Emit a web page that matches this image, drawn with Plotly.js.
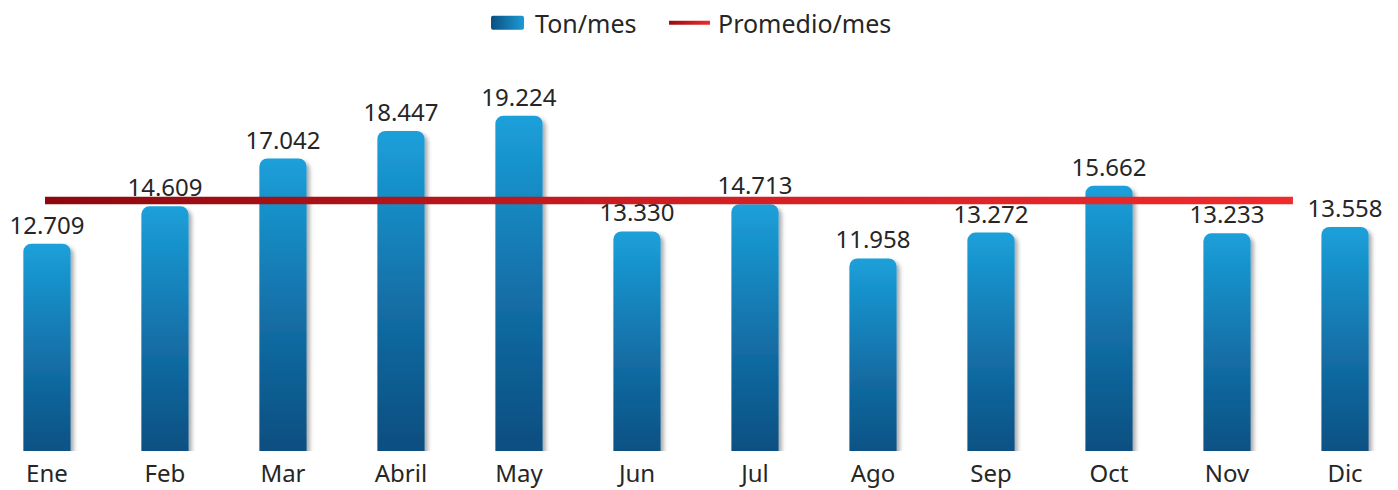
<!DOCTYPE html>
<html>
<head>
<meta charset="utf-8">
<script src="https://cdn.plot.ly/plotly-3.0.1.min.js"></script>
<style>
  html, body { margin: 0; padding: 0; background: #ffffff; }
  #chart { width: 1398px; height: 490px; }
</style>
</head>
<body>
<svg width="0" height="0" style="position:absolute">
  <defs>
    <linearGradient id="barGrad" x1="0" y1="0" x2="0" y2="1">
      <stop offset="0" stop-color="#1ba0da"/>
      <stop offset="0.45" stop-color="#1371a9"/>
      <stop offset="0.85" stop-color="#0b5082"/>
      <stop offset="1" stop-color="#0a4b7b"/>
    </linearGradient>
    <linearGradient id="lineGrad" gradientUnits="userSpaceOnUse" x1="0" y1="0" x2="1248" y2="0">
      <stop offset="0" stop-color="#8c080d"/>
      <stop offset="0.5" stop-color="#cf1e23"/>
      <stop offset="1" stop-color="#ee2b2d"/>
    </linearGradient>
    <linearGradient id="legBarGrad" x1="0" y1="0" x2="1" y2="0">
      <stop offset="0" stop-color="#0b4f80"/>
      <stop offset="1" stop-color="#1b9bd6"/>
    </linearGradient>
    <linearGradient id="legLineGrad" gradientUnits="userSpaceOnUse" x1="-9" y1="0" x2="32" y2="0">
      <stop offset="0" stop-color="#9a0a0f"/>
      <stop offset="1" stop-color="#ee2b2d"/>
    </linearGradient>
    <filter id="bshadow" x="-30%" y="-10%" width="170%" height="130%">
      <feDropShadow dx="3" dy="3" stdDeviation="2" flood-color="#000000" flood-opacity="0.35"/>
    </filter>
  </defs>
</svg>
<div id="chart"></div>
<script>
// ---- data ----
const months = ["Ene", "Feb", "Mar", "Abril", "May", "Jun", "Jul", "Ago", "Sep", "Oct", "Nov", "Dic"];
const tonMes = [12.709, 14.609, 17.042, 18.447, 19.224, 13.330, 14.713, 11.958, 13.272, 15.662, 13.233, 13.558];
const tonLabels = ["12.709", "14.609", "17.042", "18.447", "19.224", "13.330", "14.713", "11.958", "13.272", "15.662", "13.233", "13.558"];
const promedioMes = [14.9, 14.9, 14.9, 14.9, 14.9, 14.9, 14.9, 14.9, 14.9, 14.9, 14.9, 14.9];
const seriesNames = ["Ton/mes", "Promedio/mes"];

const FONT = "'Noto Sans', 'Open Sans', sans-serif";
const TXT = "#262626";

const traces = [
  {
    type: "bar",
    name: seriesNames[0],
    x: months,
    y: tonMes,
    width: 0.4,
    text: tonLabels,
    textposition: "outside",
    constraintext: "none",
    cliponaxis: false,
    textfont: { family: FONT, size: 24, color: TXT },
    marker: { color: "#1371a9", cornerradius: 8, line: { width: 0 } },
    hoverinfo: "x+y"
  },
  {
    type: "scatter",
    mode: "lines",
    name: seriesNames[1],
    x: months,
    y: promedioMes,
    xaxis: "x2",
    line: { color: "#d42326", width: 7.5 },
    hoverinfo: "y"
  }
];

const layout = {
  width: 1398,
  height: 490,
  margin: { l: 0, r: 0, t: 70, b: 39, pad: 0 },
  paper_bgcolor: "#ffffff",
  plot_bgcolor: "#ffffff",
  font: { family: FONT, color: TXT },
  showlegend: true,
  legend: {
    orientation: "h",
    x: 0.485, xanchor: "center",
    yref: "container", y: 1, yanchor: "top",
    font: { family: FONT, size: 25, color: TXT },
    entrywidth: 138,
    bgcolor: "rgba(0,0,0,0)"
  },
  xaxis: {
    type: "category",
    range: [-0.398, 11.449],
    showgrid: false, zeroline: false, showline: false,
    ticks: "",
    tickfont: { family: FONT, size: 24, color: TXT },
    ticklabelstandoff: 6
  },
  xaxis2: {
    type: "category",
    overlaying: "x",
    range: [-0.3966, 11.926],
    visible: false
  },
  yaxis: {
    range: [2.15, 21.55],
    visible: false,
    showgrid: false, zeroline: false
  },
  bargap: 0.6
};

Plotly.newPlot("chart", traces, layout, { staticPlot: true, displayModeBar: false }).then(function (gd) {
  // gradient + shadow on bars
  gd.querySelectorAll(".barlayer .point path").forEach(function (p) {
    p.style.fill = "url(#barGrad)";
    p.setAttribute("filter", "url(#bshadow)");
  });
  // gradient on average line
  const ln = gd.querySelector(".scatterlayer .js-line");
  if (ln) {
    const bb = ln.getBBox();
    const g = document.getElementById("lineGrad");
    g.setAttribute("x1", bb.x);
    g.setAttribute("x2", bb.x + bb.width);
    g.setAttribute("y1", bb.y);
    g.setAttribute("y2", bb.y);
    ln.style.stroke = "url(#lineGrad)";
    ln.style.strokeLinecap = "butt";
  }
  // legend: let the last entry's text run past the fixed entry width
  gd.querySelectorAll(".legend [clip-path]").forEach(function (el) {
    el.removeAttribute("clip-path");
  });
  // legend symbols
  const items = gd.querySelectorAll(".legend .traces");
  items.forEach(function (it) {
    const bar = it.querySelector("path.legendbar, .legendpoints path");
    const line = it.querySelector(".legendlines path");
    if (line) {
      line.setAttribute("d", "M-9,0h41");
      line.style.stroke = "url(#legLineGrad)";
      line.style.strokeWidth = "4px";
    } else if (bar) {
      bar.removeAttribute("transform");
      bar.setAttribute("d", "M-2,-7H27A2,2 0 0 1 29,-5V5A2,2 0 0 1 27,7H-2A2,2 0 0 1 -4,5V-5A2,2 0 0 1 -2,-7Z");
      bar.style.fill = "url(#legBarGrad)";
      bar.style.stroke = "none";
    }
  });
});
</script>
</body>
</html>
